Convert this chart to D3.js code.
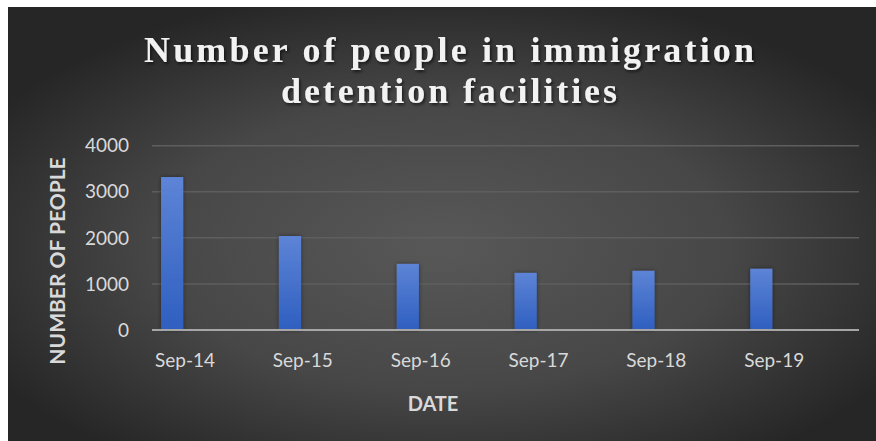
<!DOCTYPE html>
<html>
<head>
<meta charset="utf-8">
<script src="https://cdn.jsdelivr.net/npm/d3@7"></script>
<style>
body { margin: 0; background: #fff; }
svg { display: block; }
</style>
</head>
<body>
<svg id="chart" width="876" height="441"></svg>
<script>
var dates = ['Sep-14', 'Sep-15', 'Sep-16', 'Sep-17', 'Sep-18', 'Sep-19']
var people = [3320, 2040, 1435, 1240, 1285, 1330]
var yTicks = [0, 1000, 2000, 3000, 4000]
var titleLines = ['Number of people in immigration', 'detention facilities']

var svg = d3.select('#chart')
var defs = svg.append('defs')

var bg = defs.append('radialGradient').attr('id', 'bg')
	.attr('cx', '50%').attr('cy', '55%').attr('r', '60%')
bg.append('stop').attr('offset', '0%').attr('stop-color', '#585858')
bg.append('stop').attr('offset', '55%').attr('stop-color', '#474747')
bg.append('stop').attr('offset', '100%').attr('stop-color', '#262626')

var barGrad = defs.append('linearGradient').attr('id', 'barGrad')
	.attr('x1', 0).attr('y1', 0).attr('x2', 0).attr('y2', 1)
barGrad.append('stop').attr('offset', '0%').attr('stop-color', '#5d84d6')
barGrad.append('stop').attr('offset', '100%').attr('stop-color', '#2f5fc0')

var shadow = defs.append('filter').attr('id', 'shadow')
	.attr('x', '-10%').attr('y', '-20%').attr('width', '130%').attr('height', '150%')
shadow.append('feDropShadow').attr('dx', 1.5).attr('dy', 2).attr('stdDeviation', 1.5)
	.attr('flood-color', '#000').attr('flood-opacity', 0.6)

var barShadow = defs.append('filter').attr('id', 'barShadow')
	.attr('x', '-50%').attr('y', '-10%').attr('width', '200%').attr('height', '120%')
barShadow.append('feDropShadow').attr('dx', 0).attr('dy', 0).attr('stdDeviation', 2)
	.attr('flood-color', '#000').attr('flood-opacity', 0.45)

svg.append('rect').attr('x', 8).attr('y', 7).attr('width', 868).attr('height', 434)
	.attr('fill', 'url(#bg)')

var plotLeft = 152, plotRight = 859, plotTop = 145.7, plotBottom = 330

var x = d3.scaleBand().domain(dates).range([plotLeft, plotRight]).padding(0)
var y = d3.scaleLinear().domain([0, 4000]).range([plotBottom, plotTop])

// gridlines
svg.append('g').selectAll('line').data(yTicks.filter(function(t) { return t > 0 }))
	.enter().append('line')
	.attr('x1', plotLeft).attr('x2', plotRight)
	.attr('y1', function(d) { return y(d) }).attr('y2', function(d) { return y(d) })
	.attr('stroke', '#5e5e5e').attr('stroke-width', 1.5)

// bars
var bw = x.bandwidth()
svg.append('g').selectAll('rect').data(people).enter().append('rect')
	.attr('x', function(d, i) { return x(dates[i]) + bw * 0.077 })
	.attr('width', bw * 0.188)
	.attr('y', function(d) { return y(d) })
	.attr('height', function(d) { return y(0) - y(d) })
	.attr('fill', 'url(#barGrad)')
	.attr('filter', 'url(#barShadow)')

// baseline
svg.append('line').attr('x1', plotLeft).attr('x2', plotRight)
	.attr('y1', y(0)).attr('y2', y(0))
	.attr('stroke', '#a6a6a6').attr('stroke-width', 2)

// y tick labels
svg.append('g').selectAll('text').data(yTicks).enter().append('text')
	.attr('x', 129).attr('y', function(d) { return y(d) })
	.attr('dy', '0.35em')
	.attr('text-anchor', 'end')
	.attr('font-family', 'Lato, sans-serif').attr('font-size', 19)
	.attr('fill', '#d9d9d9')
	.text(function(d) { return d })

// x tick labels
svg.append('g').selectAll('text').data(dates).enter().append('text')
	.attr('x', function(d) { return x(d) + bw * 0.28 })
	.attr('y', 367)
	.attr('text-anchor', 'middle')
	.attr('font-family', 'Lato, sans-serif').attr('font-size', 19)
	.attr('fill', '#d9d9d9')
	.text(function(d) { return d })

// axis titles
svg.append('text').attr('x', 433).attr('y', 411)
	.attr('text-anchor', 'middle')
	.attr('font-family', 'Lato, sans-serif').attr('font-size', 20).attr('font-weight', 'bold')
	.attr('fill', '#d9d9d9')
	.text('DATE')

svg.append('text')
	.attr('transform', 'translate(65,261) rotate(-90)')
	.attr('text-anchor', 'middle')
	.attr('font-family', 'Lato, sans-serif').attr('font-size', 21).attr('font-weight', 'bold')
	.attr('fill', '#d9d9d9')
	.text('NUMBER OF PEOPLE')

// title
var titleWidths = [610, 336]
svg.append('g').selectAll('text').data(titleLines).enter().append('text')
	.attr('x', 449).attr('y', function(d, i) { return 62 + i * 41 })
	.attr('text-anchor', 'middle')
	.attr('font-family', '"Liberation Serif", serif').attr('font-size', 36).attr('font-weight', 'bold')
	.attr('textLength', function(d, i) { return titleWidths[i] })
	.attr('lengthAdjust', 'spacing')
	.attr('fill', '#f2f2f2')
	.attr('filter', 'url(#shadow)')
	.text(function(d) { return d })
</script>
</body>
</html>
